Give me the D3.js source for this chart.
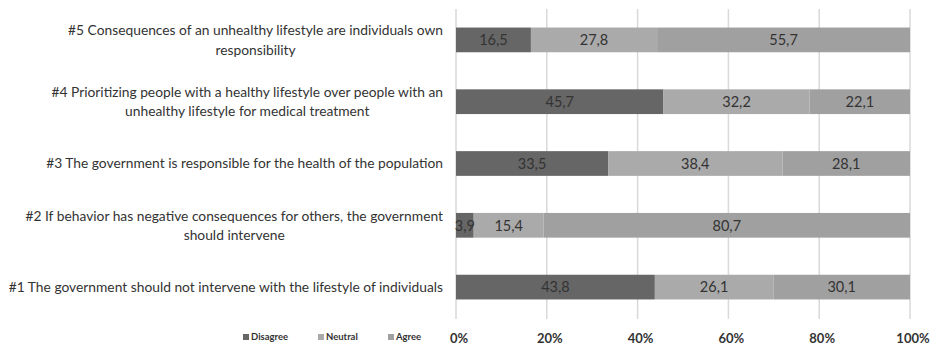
<!DOCTYPE html>
<html>
<head>
<meta charset="utf-8">
<script src="https://cdn.jsdelivr.net/npm/d3@7"></script>
<style>
  html, body { margin: 0; padding: 0; background: #fff; }
  svg { display: block; }
  text { font-family: Lato, "Open Sans", sans-serif; }
</style>
</head>
<body>
<svg id="chart" width="934" height="346"></svg>
<script>
// Statements (top to bottom) and their wrapped label lines
const statements = ["#5", "#4", "#3", "#2", "#1"];
const labelLines = [
  ["#5 Consequences of an unhealthy lifestyle are individuals own", "responsibility"],
  ["#4 Prioritizing people with a healthy lifestyle over people with an", "unhealthy lifestyle for medical treatment"],
  ["#3 The government is responsible for the health of the population"],
  ["#2 If behavior has negative consequences for others, the government", "should intervene"],
  ["#1 The government should not intervene with the lifestyle of individuals"]
];
const seriesNames = ["Disagree", "Neutral", "Agree"];
const disagree = [16.5, 45.7, 33.5, 3.9, 43.8];
const neutral  = [27.8, 32.2, 38.4, 15.4, 26.1];
const agree    = [55.7, 22.1, 28.1, 80.7, 30.1];
const tickValues = [0, 20, 40, 60, 80, 100];

const colors = ["#666666", "#aaaaaa", "#a0a0a0"];

const svg = d3.select("#chart");
const margin = { left: 456, right: 24, top: 9, bottom: 27 };
const W = 934, H = 346;

const x = d3.scaleLinear().domain([0, 100]).range([margin.left, W - margin.right]);
const y = d3.scaleBand().domain(statements).range([margin.top, 318]).paddingInner(0.6).paddingOuter(0.3);

// Gridlines
svg.append("g").selectAll("line").data(tickValues).join("line")
  .attr("x1", d => x(d)).attr("x2", d => x(d))
  .attr("y1", margin.top).attr("y2", 319)
  .attr("stroke", "#d9d9d9").attr("stroke-width", 1.5);

// Stacked segments
const rows = statements.map((s, i) => ({ key: s, Disagree: disagree[i], Neutral: neutral[i], Agree: agree[i] }));
const stack = d3.stack().keys(seriesNames)(rows);

const layers = svg.append("g").selectAll("g").data(stack).join("g")
  .attr("fill", (d, i) => colors[i]);
layers.selectAll("rect").data(d => d).join("rect")
  .attr("x", d => x(d[0]))
  .attr("width", d => x(d[1]) - x(d[0]))
  .attr("y", d => y(d.data.key))
  .attr("height", y.bandwidth());

// Value labels
const fmt = v => d3.format(".1f")(v).replace(".", ",");
const lblG = svg.append("g");
stack.forEach(layer => {
  layer.forEach(d => {
    lblG.append("text")
      .attr("x", (x(d[0]) + x(d[1])) / 2)
      .attr("y", y(d.data.key) + y.bandwidth() / 2)
      .attr("dy", "0.36em")
      .attr("text-anchor", "middle")
      .attr("font-size", 14.5)
      .attr("fill", "#333")
      .text(fmt(d[1] - d[0]));
  });
});

// Category labels (wrapped lines centred on the first line's width)
const labG = svg.append("g");
statements.forEach((s, i) => {
  const lines = labelLines[i];
  const cy = y(s) + y.bandwidth() / 2;
  const g = labG.append("g");
  const texts = lines.map((ln, j) => g.append("text")
    .attr("font-size", 13.8)
    .attr("fill", "#333")
    .attr("text-anchor", "middle")
    .attr("y", cy + (j - (lines.length - 1) / 2) * 19.5)
    .attr("dy", "0.36em")
    .text(ln));
  const maxW = d3.max(texts, t => t.node().getComputedTextLength());
  texts.forEach(t => t.attr("x", 443 - maxW / 2));
});

// Bottom axis tick labels
svg.append("g").selectAll("text").data(tickValues).join("text")
  .attr("x", d => x(d) + 3)
  .attr("y", 338)
  .attr("dy", "0.36em")
  .attr("text-anchor", "middle")
  .attr("font-size", 13)
  .attr("font-weight", "bold")
  .attr("fill", "#333")
  .text(d => d + "%");

// Legend
const legendX = [243, 318, 388];
const lg = svg.append("g").selectAll("g").data(seriesNames).join("g")
  .attr("transform", (d, i) => `translate(${legendX[i]},337)`);
lg.append("rect").attr("x", 0).attr("y", -3).attr("width", 6).attr("height", 6)
  .attr("fill", (d, i) => colors[i]);
lg.append("text").attr("x", 8).attr("y", 0).attr("dy", "0.36em")
  .attr("font-size", 9.5).attr("font-weight", "bold").attr("fill", "#333")
  .text(d => d);
</script>
</body>
</html>
